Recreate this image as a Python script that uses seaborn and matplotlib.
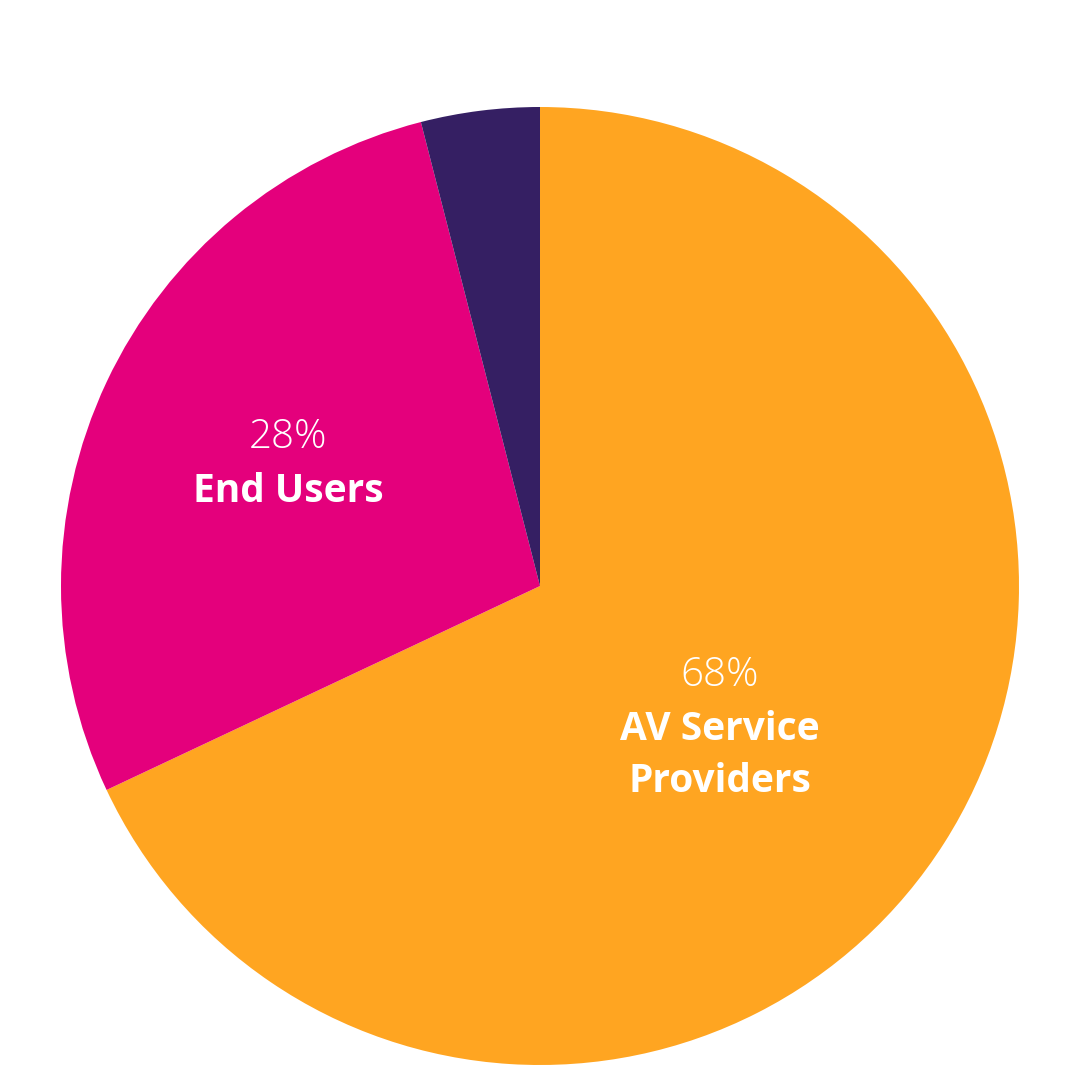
import matplotlib
matplotlib.use("Agg")
import matplotlib.pyplot as plt
import seaborn as sns

categories = ["AV Service\nProviders", "End Users", "Other"]
shares = [68, 28, 4]
pct_labels = ["68%", "28%", ""]
colors = ["#FFA521", "#E4007C", "#351F63"]

sns.set_theme(style="white")
plt.rcParams['font.family'] = ['Open Sans', 'DejaVu Sans']

fig = plt.figure(figsize=(10.8, 10.8), dpi=100)
ax = fig.add_axes([0, 0, 1, 1])

wedges, _ = ax.pie(shares, colors=sns.color_palette(colors), startangle=90,
                   counterclock=False, center=(540, 494), radius=479,
                   wedgeprops=dict(linewidth=0), frame=True)
ax.set_xlim(0, 1080)
ax.set_ylim(0, 1080)
ax.set_aspect('equal')
ax.axis('off')

# label positions (pixel layout)
label_pos = {0: (720, 1080 - 676), 1: (288, 1080 - 438)}
for i, (x, y) in label_pos.items():
    ax.text(x, y, pct_labels[i], ha='center', va='center', color='white',
            fontsize=29, fontweight='light')
    for j, line in enumerate(categories[i].split("\n")):
        ax.text(x, y - 54 - 52 * j, line, ha='center', va='center', color='white',
                fontsize=28, fontweight='bold')

fig.savefig("out.png", dpi=100, facecolor='white')
